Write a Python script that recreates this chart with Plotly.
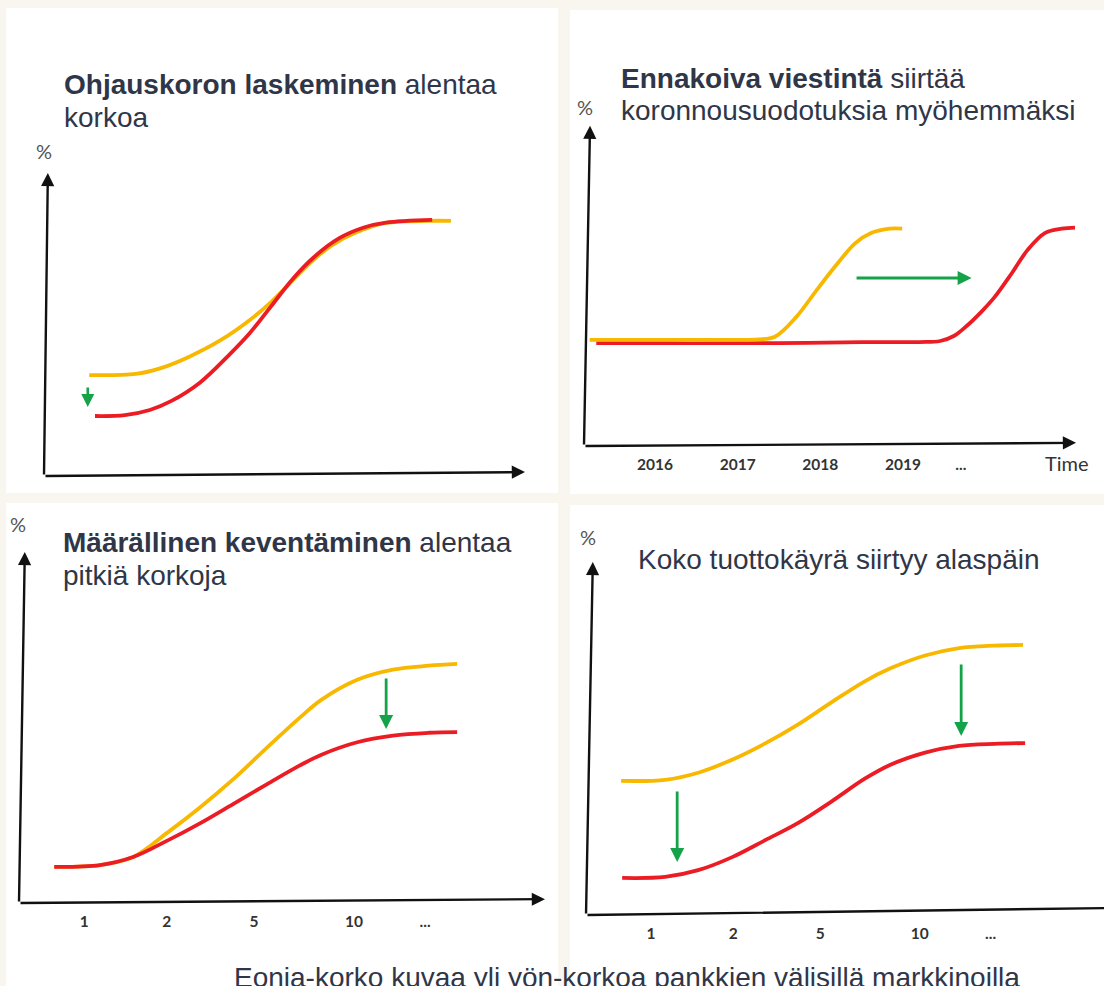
import plotly.graph_objects as go

W, H = 1104, 986

# ---------------- data ----------------
# Panel 1: policy-rate cut (schematic maturity axis, rate in arbitrary % units)
cut_before_x = [0.94, 1.91, 2.43, 3.01, 3.68, 4.28, 4.72, 5.18, 5.55, 5.99, 6.51, 7.11, 8.00, 8.46]
cut_before_y = [3.33, 3.37, 3.56, 3.93, 4.49, 5.15, 5.74, 6.47, 7.06, 7.62, 8.05, 8.35, 8.42, 8.42]
cut_after_x = [1.06, 1.68, 2.20, 2.64, 3.24, 3.85, 4.28, 4.72, 5.18, 5.61, 6.13, 6.65, 7.11, 8.07]
cut_after_y = [1.98, 2.01, 2.18, 2.47, 3.08, 4.00, 4.72, 5.60, 6.52, 7.22, 7.84, 8.20, 8.36, 8.45]
cut_arrow_x = [0.91]
cut_arrow_from = [2.97]
cut_arrow_to = [2.28]

# Panel 2: forward guidance (time in years)
years = [2016, 2017, 2018, 2019, 2019.7]
year_labels = ["2016", "2017", "2018", "2019", "..."]
fg_before_x = [2015.21, 2016.2, 2017.0, 2017.25, 2017.45, 2017.71, 2017.96, 2018.21, 2018.42, 2018.62, 2018.84, 2018.99]
fg_before_y = [1.01, 1.01, 1.01, 1.015, 1.04, 1.23, 1.49, 1.74, 1.93, 2.03, 2.07, 2.07]
fg_after_x = [2015.29, 2016.5, 2017.5, 2018.5, 2019.2, 2019.45, 2019.62, 2019.78, 2019.95,
              2020.11, 2020.32, 2020.51, 2020.72, 2020.92, 2021.08]
fg_after_y = [0.98, 0.98, 0.98, 0.99, 0.99, 1.00, 1.05, 1.15, 1.28,
              1.42, 1.65, 1.87, 2.03, 2.07, 2.08]
fg_arrow_from = [2018.42]
fg_arrow_to = [2019.83]
fg_arrow_y = [1.60]

# Panels 3 and 4: maturity positions on the yield-curve axis
maturity_pos = [1.24, 2.81, 4.47, 6.37, 7.72]
maturity_labels = ["1", "2", "5", "10", "..."]

# Panel 3: quantitative easing
qe_x = [0.67, 1.54, 2.17, 2.81, 3.44, 4.07, 4.71, 5.34, 5.74, 6.43, 7.11, 7.79, 8.33]
qe_before_y = [1.03, 1.08, 1.31, 1.99, 2.72, 3.52, 4.42, 5.28, 5.78, 6.36, 6.65, 6.76, 6.81]
qe_after_y = [1.03, 1.08, 1.31, 1.77, 2.27, 2.82, 3.38, 3.92, 4.22, 4.58, 4.77, 4.85, 4.87]
qe_arrow_x = [6.98]
qe_arrow_from = [6.44]
qe_arrow_to = [4.96]

# Panel 4: parallel downward shift
sh_before_x = [0.67, 1.51, 2.14, 2.82, 3.42, 4.05, 4.69, 5.32, 5.80, 6.47, 7.12, 7.79, 8.34]
sh_before_y = [3.80, 3.83, 4.03, 4.42, 4.86, 5.40, 6.03, 6.62, 6.98, 7.35, 7.56, 7.63, 7.65]
sh_after_x = [0.69, 1.51, 2.14, 2.79, 3.42, 4.05, 4.69, 5.32, 5.80, 6.47, 7.12, 7.79, 8.38]
sh_after_y = [1.05, 1.08, 1.27, 1.64, 2.12, 2.61, 3.22, 3.86, 4.25, 4.60, 4.79, 4.85, 4.87]
sh_arrow_x = [1.74, 7.16]
sh_arrow_from = [3.54, 7.14]
sh_arrow_to = [1.50, 5.07]

# ---------------- styles ----------------
CREAM = "#f9f5ef"
YELLOW = "#f8b800"
RED = "#ec1c24"
GREEN = "#15a34a"
TEXT = "#2f3648"
AXIS = "#111111"
TITLE_FONT = "Liberation Sans, Arial, sans-serif"
LABEL_FONT = "Lato, Liberation Sans, sans-serif"

fig = go.Figure()


def ref(n, letter):
    return letter if n == 1 else f"{letter}{n}"


def setup_axes(n, panel, x_cal, y_cal, origin_py, tickvals=None, ticktext=None):
    """panel = (left, top, right, bottom) in px; *_cal = (px, value, px per unit)."""
    left, top, right, bottom = panel
    xp, xv, xs = x_cal
    yp, yv, ys = y_cal
    xrange_ = [xv + (left - xp) / xs, xv + (right - xp) / xs]
    yrange_ = [yv + (yp - bottom) / ys, yv + (yp - top) / ys]
    xa = dict(
        domain=[left / W, right / W], range=xrange_, anchor="free",
        position=1 - origin_py / H, showgrid=False, zeroline=False,
        showline=False, fixedrange=True,
    )
    if tickvals is not None:
        xa.update(
            tickmode="array", tickvals=tickvals, ticktext=ticktext,
            ticks="outside", ticklen=4, tickcolor="rgba(0,0,0,0)",
            tickfont=dict(family=LABEL_FONT, size=15.5, color="#333333", weight="bold"),
        )
    else:
        xa.update(showticklabels=False, ticks="")
    ya = dict(
        domain=[1 - bottom / H, 1 - top / H], range=yrange_, visible=False,
        anchor=ref(n, "x"), fixedrange=True,
    )
    fig.update_layout(**{("xaxis" if n == 1 else f"xaxis{n}"): xa,
                         ("yaxis" if n == 1 else f"yaxis{n}"): ya})


def curve(n, xs, ys, color):
    fig.add_trace(go.Scatter(
        x=xs, y=ys, mode="lines", xaxis=ref(n, "x"), yaxis=ref(n, "y"),
        line=dict(color=color, width=3.8, shape="spline", smoothing=1.0),
        hoverinfo="skip", showlegend=False,
    ))


annotations = []


def arrow(n, x_head, y_head, x_tail, y_tail, color, width, size, head=2):
    annotations.append(dict(
        x=x_head, y=y_head, ax=x_tail, ay=y_tail,
        xref=ref(n, "x"), yref=ref(n, "y"), axref=ref(n, "x"), ayref=ref(n, "y"),
        text="", showarrow=True, arrowhead=head, arrowsize=size,
        arrowwidth=width, arrowcolor=color, standoff=0, startstandoff=0,
    ))


def text(px, py, s, size, color=TEXT, family=TITLE_FONT, xanchor="left", yanchor="middle"):
    annotations.append(dict(
        x=px / W, y=1 - py / H, xref="paper", yref="paper", text=s,
        showarrow=False, xanchor=xanchor, yanchor=yanchor,
        font=dict(family=family, size=size, color=color),
    ))


# ---------------- panel 1 ----------------
setup_axes(1, (6, 8, 558, 493), (44, 0, 48.1), (476, 0, 30.3), 476)
curve(1, cut_before_x, cut_before_y, YELLOW)
curve(1, cut_after_x, cut_after_y, RED)
arrow(1, 0.08, 10, 0, 0, AXIS, 2.4, 1.1)
arrow(1, 10, 0.13, 0, 0, AXIS, 2.4, 1.1)
for x, y0, y1 in zip(cut_arrow_x, cut_arrow_from, cut_arrow_to):
    arrow(1, x, y1, x, y0, GREEN, 2.6, 1.0)
text(62, 84, "<b>Ohjauskoron laskeminen</b> alentaa", 28)
text(62, 117, "korkoa", 28)
text(44, 151, "%", 20, "#555555", LABEL_FONT, xanchor="center")

# ---------------- panel 2 ----------------
setup_axes(2, (570, 10, 1104, 494), (655, 2016, 82.67), (446, 0, 105), 446,
           years, year_labels)
curve(2, fg_after_x, fg_after_y, RED)
curve(2, fg_before_x, fg_before_y, YELLOW)
arrow(2, 2015.214, 3.05, 2015.141, 0, AXIS, 2.4, 1.1)
arrow(2, 2021.093, 0.03, 2015.141, 0, AXIS, 2.4, 1.1)
for x0, x1, y in zip(fg_arrow_from, fg_arrow_to, fg_arrow_y):
    arrow(2, x1, y, x0, y, GREEN, 2.8, 1.0)
text(619, 78, "<b>Ennakoiva viestintä</b> siirtää", 28)
text(619, 110, "koronnousuodotuksia myöhemmäksi", 28)
text(585, 107, "%", 20, "#555555", LABEL_FONT, xanchor="center")
text(1067, 463, "Time", 20, "#333333", LABEL_FONT, xanchor="center")

# ---------------- panel 3 ----------------
setup_axes(3, (6, 503, 558, 986), (19, 0, 52.6), (903, 0, 35.1), 903,
           maturity_pos, maturity_labels)
curve(3, qe_x, qe_before_y, YELLOW)
curve(3, qe_x, qe_after_y, RED)
arrow(3, 0.11, 10, 0, 0, AXIS, 2.4, 1.1)
arrow(3, 10, 0.11, 0, 0, AXIS, 2.4, 1.1)
for x, y0, y1 in zip(qe_arrow_x, qe_arrow_from, qe_arrow_to):
    arrow(3, x, y1, x, y0, GREEN, 2.8, 1.0)
text(61, 542, "<b>Määrällinen keventäminen</b> alentaa", 28)
text(61, 575, "pitkiä korkoja", 28)
text(18, 524, "%", 20, "#555555", LABEL_FONT, xanchor="center")

# ---------------- panel 4 ----------------
setup_axes(4, (570, 505, 1104, 986), (586, 0, 52.4), (915, 0, 35.3), 915,
           maturity_pos, maturity_labels)
curve(4, sh_before_x, sh_before_y, YELLOW)
curve(4, sh_after_x, sh_after_y, RED)
arrow(4, 0.13, 10, 0, 0, AXIS, 2.4, 1.1)
arrow(4, 10.2, 0.2, 0, 0, AXIS, 2.4, 1.1, head=0)
for x, y0, y1 in zip(sh_arrow_x, sh_arrow_from, sh_arrow_to):
    arrow(4, x, y1, x, y0, GREEN, 2.8, 1.0)
text(636, 559, "Koko tuottokäyrä siirtyy alaspäin", 28)
text(588, 537, "%", 20, "#555555", LABEL_FONT, xanchor="center")

# ---------------- footer ----------------
text(627, 977, "Eonia-korko kuvaa yli yön-korkoa pankkien välisillä markkinoilla", 28,
     xanchor="center")

# white card behind each panel
panels = [(6, 8, 558, 493), (570, 10, 1104, 494), (6, 503, 558, 986), (570, 505, 1104, 986)]
shapes = [dict(type="rect", xref="paper", yref="paper", x0=l / W, x1=r / W,
               y0=1 - b / H, y1=1 - t / H, fillcolor="white", line=dict(width=0),
               layer="below") for (l, t, r, b) in panels]

fig.update_layout(
    width=W, height=H, margin=dict(l=0, r=0, t=0, b=0),
    paper_bgcolor=CREAM, plot_bgcolor="rgba(0,0,0,0)",
    shapes=shapes, annotations=annotations, showlegend=False,
)

fig.write_html("out.html", config={"displayModeBar": False})
